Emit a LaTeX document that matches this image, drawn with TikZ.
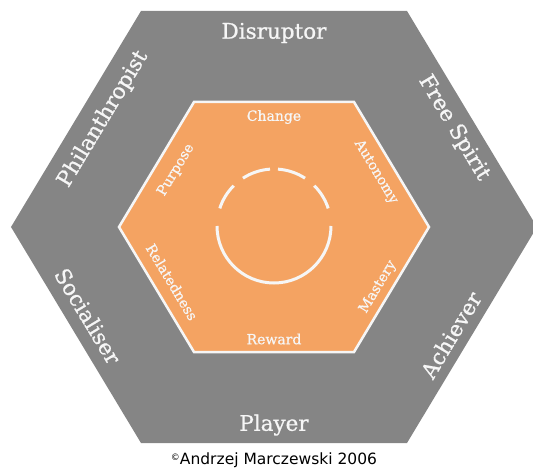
\documentclass[tikz,border=0pt]{standalone}
\usepackage{fontspec}
\setmainfont{DejaVu Serif}
\newfontfamily\labelfont{DejaVu Serif}[UprightFeatures={FakeBold=0.8}]
\newfontfamily\creditfont{DejaVu Sans}
\usepackage{xcolor}
\usetikzlibrary{positioning}
\definecolor{hexGrey}{RGB}{133,133,133}
\definecolor{hexOrange}{RGB}{244,163,98}
\definecolor{hexText}{RGB}{246,246,246}

\begin{document}
\begin{tikzpicture}[x=1pt, y=1pt,
    outerlbl/.style={text=hexText, font=\labelfont\fontsize{21.5}{24}\selectfont, inner sep=0pt},
    innerlbl/.style={text=hexText, font=\labelfont\fontsize{14}{16}\selectfont, inner sep=0pt},
    ring/.style={draw=hexText, line width=3pt}
  ]
  \useasboundingbox (-274,-244) rectangle (259,227);

  % user types (outer hexagon)
  \fill[hexGrey] (-133,216) -- (133,216) -- (263,0) -- (133,-216) -- (-133,-216) -- (-263,0) -- cycle;
  \node[outerlbl] (disruptor) at (0,194) {Disruptor};
  \node[outerlbl] (player) at (0,-198) {Player};
  \node[outerlbl, rotate=59] (philanthropist) at (-171,108) {Philanthropist};
  \node[outerlbl, rotate=-59] (freespirit) at (180,99) {Free Spirit};
  \node[outerlbl, rotate=-59] (socialiser) at (-186,-89) {Socialiser};
  \node[outerlbl, rotate=59] (achiever) at (177,-108) {Achiever};

  % motivations (inner hexagon)
  \filldraw[fill=hexOrange, draw=hexText, line width=2.5pt, line join=miter]
    (-80,125) -- (80,125) -- (155,0) -- (80,-125) -- (-80,-125) -- (-155,0) -- cycle;
  \node[innerlbl] (change) at (0,110) {Change};
  \node[innerlbl] (reward) at (0,-112) {Reward};
  \node[innerlbl, rotate=59] (purpose) at (-98,57) {Purpose};
  \node[innerlbl, rotate=-59] (autonomy) at (102,55) {Autonomy};
  \node[innerlbl, rotate=-59] (relatedness) at (-102,-55) {Relatedness};
  \node[innerlbl, rotate=59] (mastery) at (104,-60) {Mastery};

  % centre ring, broken on top
  \coordinate (hub) at (0,1);
  \draw[ring] (hub) ++(180:57) arc[start angle=180, end angle=360, radius=57];
  \foreach \a/\b in {162/135, 123/94, 86/57, 45/18} {
    \draw[ring] (hub) ++(\a:57) arc[start angle=\a, end angle=\b, radius=57];
  }

  \node[font=\creditfont\fontsize{15.5}{17}\selectfont] (credit) at (0,-233)
    {\raisebox{0.5ex}{\fontsize{9}{10}\selectfont ©}Andrzej Marczewski 2006};
\end{tikzpicture}
\end{document}
